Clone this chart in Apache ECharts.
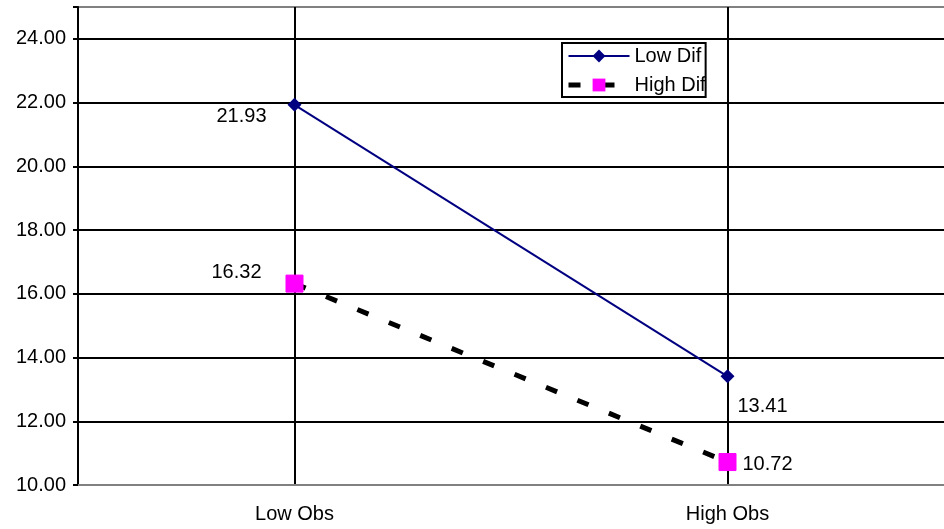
<!DOCTYPE html>
<html>
<head>
<meta charset="utf-8">
<script src="https://cdn.jsdelivr.net/npm/echarts@6/dist/echarts.min.js"></script>
<style>
  html, body { margin: 0; padding: 0; background: #fff; }
  #chart { width: 944px; height: 529px; }
</style>
</head>
<body>
<div id="chart"></div>
<script>
// chart values
var categories = ['Low Obs', 'High Obs'];
var lowDif = [21.93, 13.41];
var highDif = [16.32, 10.72];
var seriesNames = ['Low Dif', 'High Dif'];

// label placement per point (style only)
var lowLabelPos = [
  { position: 'left', distance: 21, offset: [0, 12] },
  { position: 'right', distance: 3, offset: [0, 30] }
];
var highLabelPos = [
  { position: 'left', distance: 24, offset: [0, -11] },
  { position: 'right', distance: 6, offset: [0, 2] }
];

var FONT = '"Liberation Sans", Arial, sans-serif';

function buildData(values, labelPos) {
  return values.map(function (v, i) {
    return {
      value: v,
      label: labelPos[i]
    };
  });
}

var chart = echarts.init(document.getElementById('chart'));

var yLineColors = ['#808080', '#000', '#000', '#000', '#000', '#000', '#000', '#000', '#808080'];

var option = {
  animation: false,
  backgroundColor: '#fff',
  textStyle: { fontFamily: FONT },
  grid: { left: 78, top: 7, width: 872, height: 478 },
  legend: {
    data: seriesNames,
    orient: 'vertical',
    left: 562,
    top: 43,
    padding: [3, 0, 2, 4],
    itemWidth: 61,
    itemHeight: 16,
    itemGap: 9,
    borderColor: '#000',
    borderWidth: 2,
    backgroundColor: '#fff',
    lineStyle: { width: 'inherit' },
    textStyle: {
      fontFamily: FONT,
      fontSize: 20,
      color: '#000'
    }
  },
  xAxis: [
    {
      type: 'category',
      data: categories,
      boundaryGap: true,
      axisLine: { lineStyle: { color: '#808080', width: 2 } },
      axisTick: { length: 7, lineStyle: { color: '#000', width: 2 } },
      axisLabel: { fontFamily: FONT, fontSize: 20, color: '#000', margin: 19 },
      splitLine: { show: false }
    },
    {
      // hidden axis only for vertical gridlines at category centres
      type: 'value',
      min: 0,
      max: 4,
      interval: 1,
      position: 'top',
      axisLine: { show: false },
      axisTick: { show: false },
      axisLabel: { show: false },
      splitLine: {
        show: true,
        lineStyle: { color: ['transparent', '#000'], width: 2 }
      }
    }
  ],
  yAxis: {
    type: 'value',
    min: 10,
    max: 25,
    interval: 2,
    axisLine: { show: true, lineStyle: { color: '#000', width: 2 } },
    axisTick: { show: true, length: 5, lineStyle: { color: '#000', width: 2 } },
    axisLabel: {
      fontFamily: FONT,
      fontSize: 20,
      color: '#000',
      margin: 12,
      formatter: function (v) { return v === 25 ? '' : v.toFixed(2); }
    },
    splitLine: { show: true, lineStyle: { color: yLineColors, width: 2 } }
  },
  series: [
    {
      name: seriesNames[0],
      type: 'line',
      xAxisIndex: 0,
      data: buildData(lowDif, lowLabelPos),
      symbol: 'diamond',
      symbolSize: 14,
      itemStyle: { color: '#000080' },
      lineStyle: { color: '#000080', width: 2 },
      label: {
        show: true,
        fontFamily: FONT,
        fontSize: 20,
        color: '#000',
        formatter: function (p) { return p.value.toFixed(2); }
      }
    },
    {
      name: seriesNames[1],
      type: 'line',
      xAxisIndex: 0,
      data: buildData(highDif, highLabelPos),
      symbol: 'rect',
      symbolSize: 17,
      itemStyle: { color: '#FF00FF', borderColor: '#FF00FF' },
      lineStyle: { color: '#000', width: 5, type: [12, 22] },
      label: {
        show: true,
        fontFamily: FONT,
        fontSize: 20,
        color: '#000',
        formatter: function (p) { return p.value.toFixed(2); }
      }
    }
  ]
};

chart.setOption(option);
</script>
</body>
</html>
